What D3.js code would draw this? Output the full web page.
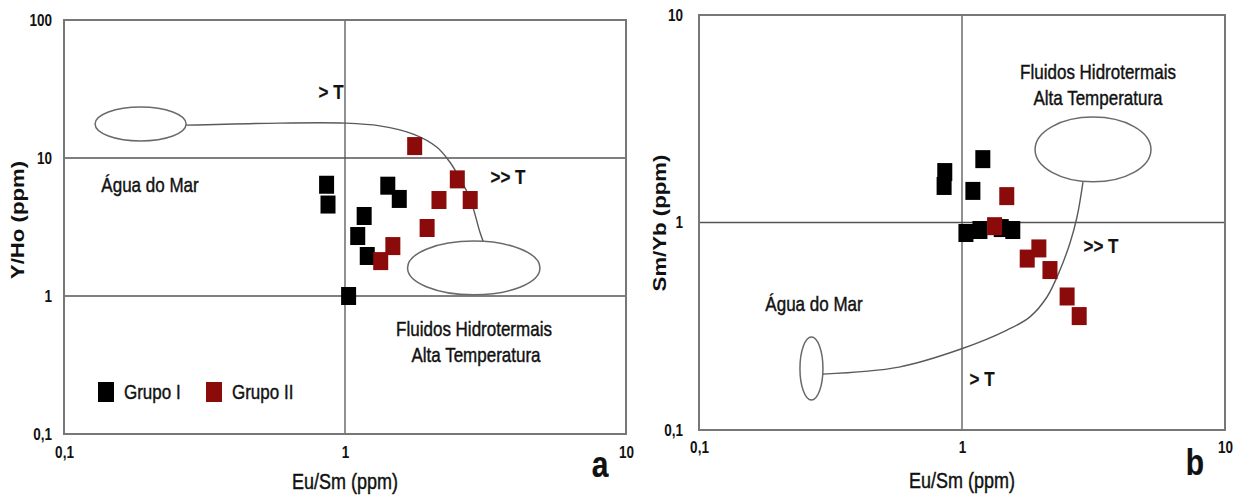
<!DOCTYPE html>
<html><head><meta charset="utf-8">
<script src="https://cdn.jsdelivr.net/npm/d3@7"></script>
<style>
html,body{margin:0;padding:0;background:#fff;}
svg{display:block;}
text{font-family:"Liberation Sans",Arial,sans-serif;fill:#111;}
</style></head><body>
<svg id="chart" width="1247" height="497"></svg>
<script>
// ---- data ----
const ticks = [0.1, 1, 10];
const ticksYA = [0.1, 1, 10, 100];
const ticksYB = [0.1, 1, 10];
const gridA_x = [1];
const gridA_y = [1, 10];
const gridB_x = [1];
const gridB_y = [1];

// Panel a: Eu/Sm vs Y/Ho
const grupoI_a_eusm = [0.86, 0.87, 1.42, 1.56, 1.17, 1.11, 1.20, 1.03];
const grupoI_a_yho  = [6.4, 4.6, 6.3, 5.05, 3.8, 2.72, 1.95, 1.0];
const grupoII_a_eusm = [1.77, 2.51, 2.16, 2.79, 1.96, 1.48, 1.34];
const grupoII_a_yho  = [12.2, 7.0, 4.96, 4.96, 3.11, 2.30, 1.79];

// Panel b: Eu/Sm vs Sm/Yb
const grupoI_b_eusm = [0.86, 0.855, 1.20, 1.10, 1.035, 1.17, 1.41, 1.56];
const grupoI_b_smyb = [1.75, 1.50, 2.02, 1.42, 0.89, 0.92, 0.94, 0.92];
const grupoII_b_eusm = [1.48, 1.33, 1.96, 1.77, 2.16, 2.51, 2.79];
const grupoII_b_smyb = [1.34, 0.96, 0.75, 0.67, 0.59, 0.44, 0.354];

// trend curves (data coordinates)
const curveA_x = [0.272, 0.587, 1.0, 1.33, 1.75, 2.12, 2.36, 2.57, 2.79, 3.02, 3.10];
const curveA_y = [17.3, 17.9, 17.9, 17.1, 14.9, 12.0, 9.35, 7.04, 5.05, 2.91, 2.50];
const curveB_x = [0.296, 0.576, 0.991, 1.483, 1.813, 2.104, 2.358, 2.574, 2.737, 2.884];
const curveB_y = [0.186, 0.201, 0.2456, 0.303, 0.351, 0.4375, 0.590, 0.797, 1.063, 1.567];

// ellipses: [xmin, xmax, ymin, ymax] in data units
const ellipseA_mar = [0.129, 0.272, 13.3, 23.4];
const ellipseA_hid = [1.67, 4.94, 1.02, 2.50];
const ellipseB_mar = [0.242, 0.296, 0.1395, 0.281];
const ellipseB_hid = [1.896, 5.23, 1.57, 3.22];

const seriesNames = ["Grupo I", "Grupo II"];
const seriesColors = ["#000000", "#8B0A0A"];

// ---- drawing ----
const svg = d3.select("#chart");
const fmt = d => String(d).replace(".", ",");
const SQW = 15, SQH = 18;
const SY = 1.2; // vertical text stretch

function label(g, x, y, str, size, weight, anchor) {
  return g.append("text")
    .attr("transform", `translate(${x},${y}) scale(1,${SY})`)
    .attr("text-anchor", anchor || "middle").attr("dominant-baseline", "central")
    .attr("font-size", size).attr("font-weight", weight || "normal")
    .attr("stroke", "#111").attr("stroke-width", weight === "bold" ? 0.2 : 0.35)
    .text(str);
}

function panel(cfg) {
  const x = d3.scaleLog().domain([0.1, 10]).range(cfg.xr);
  const y = d3.scaleLog().domain(cfg.yd).range(cfg.yr);
  const g = svg.append("g");

  // grid lines
  g.selectAll(".gx").data(cfg.gx).join("line")
    .attr("x1", d => x(d)).attr("x2", d => x(d))
    .attr("y1", cfg.yr[0]).attr("y2", cfg.yr[1])
    .attr("stroke", "#555").attr("stroke-width", 1.3);
  g.selectAll(".gy").data(cfg.gy).join("line")
    .attr("y1", d => y(d)).attr("y2", d => y(d))
    .attr("x1", cfg.xr[0]).attr("x2", cfg.xr[1])
    .attr("stroke", "#555").attr("stroke-width", 1.3);

  // frame
  g.append("rect")
    .attr("x", cfg.xr[0]).attr("y", cfg.yr[1])
    .attr("width", cfg.xr[1] - cfg.xr[0]).attr("height", cfg.yr[0] - cfg.yr[1])
    .attr("fill", "none").attr("stroke", "#777").attr("stroke-width", 2);

  // axes
  const ax = g.append("g").attr("transform", `translate(0,${cfg.yr[0] + cfg.xlabOff})`)
    .call(d3.axisBottom(x).tickValues(ticks).tickFormat(fmt).tickSize(0).tickPadding(0));
  ax.select(".domain").remove();
  ax.selectAll("text").attr("font-size", 13.5).attr("font-weight", "bold")
    .attr("y", 0).attr("dy", null).attr("dominant-baseline", "central")
    .attr("transform", `scale(1,${SY})`)
    .style("font-family", '"Liberation Sans",Arial,sans-serif').attr("fill", "#111");

  const ay = g.append("g").attr("transform", `translate(${cfg.xr[0] - cfg.ylabOff},0)`)
    .call(d3.axisLeft(y).tickValues(cfg.yt).tickFormat(fmt).tickSize(0).tickPadding(0));
  ay.select(".domain").remove();
  ay.selectAll("text").attr("font-size", 13.5).attr("font-weight", "bold")
    .attr("dy", null).attr("dominant-baseline", "central")
    .attr("transform", `scale(1,${SY})`)
    .style("font-family", '"Liberation Sans",Arial,sans-serif').attr("fill", "#111");

  // ellipses
  cfg.ellipses.forEach(e => {
    const x0 = x(e[0]), x1 = x(e[1]), y0 = y(e[2]), y1 = y(e[3]);
    g.append("ellipse")
      .attr("cx", (x0 + x1) / 2).attr("cy", (y0 + y1) / 2)
      .attr("rx", Math.abs(x1 - x0) / 2).attr("ry", Math.abs(y1 - y0) / 2)
      .attr("fill", "none").attr("stroke", "#6a6a6a").attr("stroke-width", 1.5);
  });

  // curve
  const pts = cfg.cx.map((v, i) => [v, cfg.cy[i]]);
  g.append("path").datum(pts)
    .attr("d", d3.line().x(d => x(d[0])).y(d => y(d[1])).curve(d3.curveCatmullRom))
    .attr("fill", "none").attr("stroke", "#5a5a5a").attr("stroke-width", 1.4);

  // points
  cfg.series.forEach((s, si) => {
    const pts = s.x.map((v, i) => [v, s.y[i]]);
    g.selectAll(null).data(pts).join("rect")
      .attr("x", d => x(d[0]) - SQW / 2).attr("y", d => y(d[1]) - SQH / 2)
      .attr("width", SQW).attr("height", SQH)
      .attr("fill", seriesColors[si]);
  });

  // annotations
  cfg.labels.forEach(l => label(g, l[0], l[1], l[2], l[3] || 17, l[4]));

  // axis titles
  label(g, (cfg.xr[0] + cfg.xr[1]) / 2, cfg.xtY, "Eu/Sm (ppm)", 18);
  g.append("text").attr("transform", `translate(${cfg.ytX},${cfg.ytY}) rotate(-90) scale(${SY},1)`)
    .attr("text-anchor", "middle").attr("dominant-baseline", "central")
    .attr("font-size", 18.5).attr("font-weight", "bold").text(cfg.ytitle);

  // panel letter
  label(g, cfg.letter[0], cfg.letter[1], cfg.letter[2], 30, "bold");
  return {x, y, g};
}

const A = panel({
  xr: [64, 626], yd: [0.1, 100], yr: [434, 20], yt: ticksYA,
  gx: gridA_x, gy: gridA_y, xlabOff: 19, ylabOff: 12,
  ellipses: [ellipseA_mar, ellipseA_hid], cx: curveA_x, cy: curveA_y,
  series: [{x: grupoI_a_eusm, y: grupoI_a_yho}, {x: grupoII_a_eusm, y: grupoII_a_yho}],
  labels: [[331, 92, "> T", 17, "bold"], [508, 177, ">> T", 17, "bold"],
           [150, 185, "Água do Mar"], [474, 329, "Fluidos Hidrotermais"], [476, 355, "Alta Temperatura"]],
  xtY: 481, ytX: 18, ytY: 220, ytitle: "Y/Ho (ppm)", letter: [600, 465, "a"]
});

const B = panel({
  xr: [699, 1225], yd: [0.1, 10], yr: [430, 15], yt: ticksYB,
  gx: gridB_x, gy: gridB_y, xlabOff: 18, ylabOff: 16,
  ellipses: [ellipseB_mar, ellipseB_hid], cx: curveB_x, cy: curveB_y,
  series: [{x: grupoI_b_eusm, y: grupoI_b_smyb}, {x: grupoII_b_eusm, y: grupoII_b_smyb}],
  labels: [[982, 379, "> T", 17, "bold"], [1101, 246, ">> T", 17, "bold"],
           [814, 304, "Água do Mar"], [1098, 72, "Fluidos Hidrotermais"], [1098, 98, "Alta Temperatura"]],
  xtY: 480, ytX: 660, ytY: 223, ytitle: "Sm/Yb (ppm)", letter: [1195, 463, "b"]
});

// legend (panel a)
const leg = svg.append("g");
const legX = [98, 206];
seriesNames.forEach((n, i) => {
  leg.append("rect").attr("x", legX[i]).attr("y", 382).attr("width", 16).attr("height", 20)
    .attr("fill", seriesColors[i]);
  label(leg, legX[i] + 26, 392, n, 17, "normal", "start");
});
</script>
</body></html>
